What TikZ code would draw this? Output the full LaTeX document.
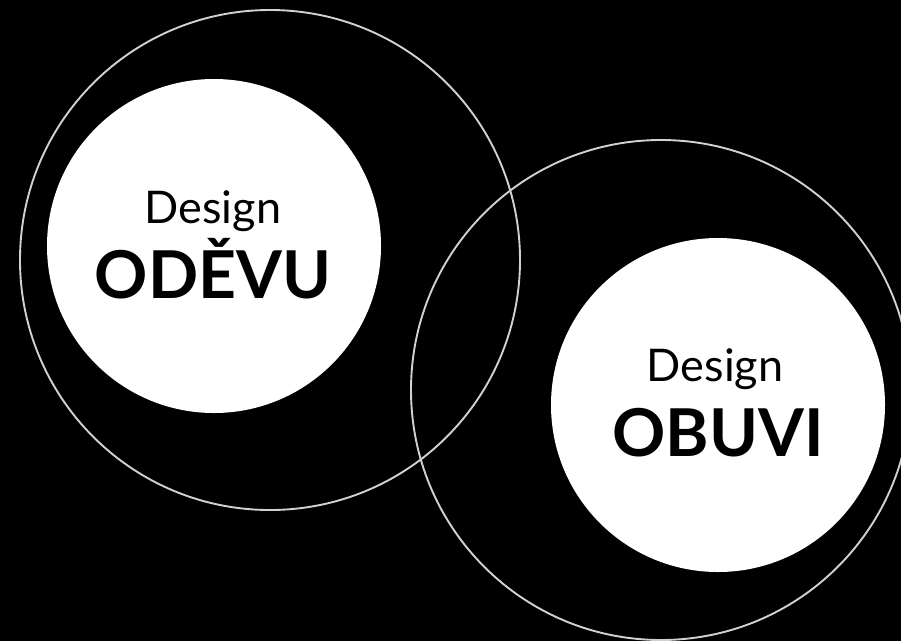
\documentclass[tikz,border=0pt]{standalone}
\usepackage{fontspec}
\setmainfont{Lato}
\usetikzlibrary{positioning}

\tikzset{
  ring/.style={draw=white!82!black, line width=1.9pt},
  disc/.style={circle, fill=white, inner sep=0pt, minimum size=334pt},
  thin label/.style={anchor=base, font=\fontsize{45}{45}\selectfont},
  bold label/.style={anchor=base, font=\fontsize{66}{66}\selectfont\bfseries},
}

\begin{document}
\begin{tikzpicture}[x=1pt, y=-1pt]
        \useasboundingbox (0,0) rectangle (901,641);
        \clip (0,0) rectangle (901,641);
        \fill[black] (0,0) rectangle (901,641);
        % outer rings
        \draw[ring] (270,260) circle[radius=250];
        \draw[ring] (661,390) circle[radius=250];
        % white discs
        \node[disc] (odevu) at (214,246) {};
        \node[disc] (obuvi) at (718,405) {};
        % texts
        \node[thin label] (odevu top) at (213,223) {Design};
        \node[bold label] (odevu name) at (213,298) {ODĚVU};
        \node[thin label] (obuvi top) at (715,381) {Design};
        \node[bold label] (obuvi name) at (718,456) {OBUVI};
    \end{tikzpicture}
\end{document}
